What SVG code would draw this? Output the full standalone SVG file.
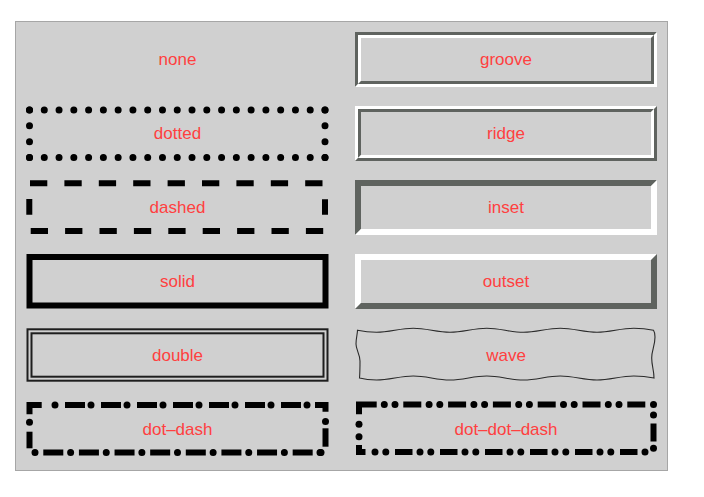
<svg xmlns="http://www.w3.org/2000/svg" width="704" height="497" viewBox="0 0 704 497">
<style>
.lbl{font-family:"Liberation Sans",Arial,Helvetica,sans-serif;font-size:17px;fill:#ff4040;text-anchor:middle}
.dk{fill:#5f635f}
.wt{fill:#ffffff}
.dots{fill:none;stroke:#000;stroke-width:7;stroke-linecap:round}
.dsh{fill:none;stroke:#000;stroke-width:6;stroke-linecap:butt;stroke-linejoin:miter}
.dot{fill:#000}
</style>
<rect x="0" y="0" width="704" height="497" fill="#ffffff"/>
<rect id="panel" x="15.5" y="21.5" width="652" height="449" fill="#d0d0d0" stroke="#a6a6a6" stroke-width="1"/>

<g id="none">
<text class="lbl" x="177.5" y="65.3">none</text>
</g>

<g id="dotted">
<path class="dots" d="M29.5,110 H325.1" stroke-dasharray="0 14.775"/>
<path class="dots" d="M29.5,157.5 H325.1" stroke-dasharray="0 14.775"/>
<path class="dots" d="M29.5,110 V157.6" stroke-dasharray="0 15.8333"/>
<path class="dots" d="M325,110 V157.6" stroke-dasharray="0 15.8333"/>
<text class="lbl" x="177.5" y="139.3">dotted</text>
</g>

<g id="dashed">
<path class="dsh" d="M30,183.3 H322.7" stroke-dasharray="17.3 17.1"/>
<path class="dsh" d="M30.7,231 H323.4" stroke-dasharray="17.3 17.1"/>
<path class="dsh" d="M29.3,199 V214.7 M325,199.3 V214.7"/>
<text class="lbl" x="177.5" y="213.3">dashed</text>
</g>

<g id="solid">
<rect x="29.5" y="257" width="296" height="48.5" fill="none" stroke="#000" stroke-width="6"/>
<text class="lbl" x="177.5" y="287.3">solid</text>
</g>

<g id="double">
<rect x="27.5" y="329.3" width="300" height="51.4" fill="none" stroke="#1e1e1e" stroke-width="2"/>
<rect x="31.5" y="333.3" width="292" height="43.4" fill="none" stroke="#1e1e1e" stroke-width="2"/>
<text class="lbl" x="177.5" y="361.3">double</text>
</g>

<g id="dot-dash">
<path class="dsh" d="M29.5,414.3 V405 H41.7"/>
<path class="dots" d="M55,405 H307.1" stroke-dasharray="0 36"/>
<path class="dsh" d="M65,405 H301" stroke-dasharray="20 16"/>
<path class="dsh" d="M315,405 H325.5 V411.7"/>
<circle class="dot" cx="325.5" cy="421.5" r="3.5"/>
<path class="dsh" d="M325.5,428.3 V446.7"/>
<circle class="dot" cx="321" cy="452.5" r="3.5"/>
<circle class="dot" cx="29.5" cy="422.3" r="3.5"/>
<path class="dsh" d="M29.5,431.7 V448.3"/>
<path class="dots" d="M35,452.5 H320.1" stroke-dasharray="0 35.625"/>
<path class="dsh" d="M43.3,452.5 H313.3" stroke-dasharray="20 15.625"/>
<text class="lbl" x="177.5" y="435.3">dot–dash</text>
</g>

<g id="groove">
<polygon class="dk" points="355,87 355,32 657,32 654,35 358,35 358,84"/>
<polygon class="wt" points="355,87 657,87 657,32 654,35 654,84 358,84"/>
<polygon class="wt" points="358,84 358,35 654,35 651,38 361,38 361,81"/>
<polygon class="dk" points="358,84 654,84 654,35 651,38 651,81 361,81"/>
<text class="lbl" x="506" y="65.3">groove</text>
</g>

<g id="ridge">
<polygon class="wt" points="355,161 355,106 657,106 654,109 358,109 358,158"/>
<polygon class="dk" points="355,161 657,161 657,106 654,109 654,158 358,158"/>
<polygon class="dk" points="358,158 358,109 654,109 651,112 361,112 361,155"/>
<polygon class="wt" points="358,158 654,158 654,109 651,112 651,155 361,155"/>
<text class="lbl" x="506" y="139.3">ridge</text>
</g>

<g id="inset">
<polygon class="dk" points="355,235 355,180 657,180 651,186 361,186 361,229"/>
<polygon class="wt" points="355,235 657,235 657,180 651,186 651,229 361,229"/>
<text class="lbl" x="506" y="213.3">inset</text>
</g>

<g id="outset">
<polygon class="wt" points="355,309 355,254 657,254 651,260 361,260 361,303"/>
<polygon class="dk" points="355,309 657,309 657,254 651,260 651,303 361,303"/>
<text class="lbl" x="506" y="287.3">outset</text>
</g>

<g id="wave">
<path fill="none" stroke="#2a2a2a" stroke-width="1.1" d="M357.5,330.3 Q367,332.3 376.5,332.3 C389.7,332.3 400,328.3 413.25,328.3 S436.8,332.3 450,332.3 S473.5,328.3 486.75,328.3 S510.3,332.3 523.5,332.3 S547,328.3 560.25,328.3 S583.8,332.3 597,332.3 S620.5,328.3 633.75,328.3 Q644,328.3 653.5,330.3 C655,332.5 655,335 655,337 C655,346 651.7,350 651.7,358 C651.7,366 654,370 654,378 Q644,376 633.75,376 C620.5,376 610.2,380 597,380 S573.5,376 560.25,376 S537,380 523.5,380 S500,376 486.75,376 S463.5,380 450,380 S426.5,376 413.25,376 S389.7,380 376.5,380 Q367,380 359.5,378 C360,372 360,367 360,361 C360,354 356,350 356,344 C356,338 357.5,334 357.5,330.3 Z"/>
<text class="lbl" x="506" y="361.3">wave</text>
</g>

<g id="dot-dot-dash">
<path class="dsh" d="M359,414.3 V404.5 H376.7"/>
<path class="dots" d="M384.3,404.5 H619.1" stroke-dasharray="0 10.7 0 34.1"/>
<path class="dsh" d="M403.3,404.5 H645.3" stroke-dasharray="18 26.8"/>
<circle class="dot" cx="653.5" cy="404.5" r="3.5"/>
<circle class="dot" cx="653.5" cy="415" r="3.5"/>
<path class="dsh" d="M653.5,423.5 V441.5"/>
<circle class="dot" cx="653.5" cy="448.3" r="3.5"/>
<circle class="dot" cx="359" cy="424.3" r="3.5"/>
<circle class="dot" cx="359" cy="436.7" r="3.5"/>
<path class="dsh" d="M359,445 V452 H365.5"/>
<path class="dots" d="M375,452 H645.1" stroke-dasharray="0 10.8 0 34.2"/>
<path class="dsh" d="M395,452 H638" stroke-dasharray="17.5 27.5"/>
<text class="lbl" x="506" y="435.3">dot–dot–dash</text>
</g>

<g id="connectors"/>
</svg>
